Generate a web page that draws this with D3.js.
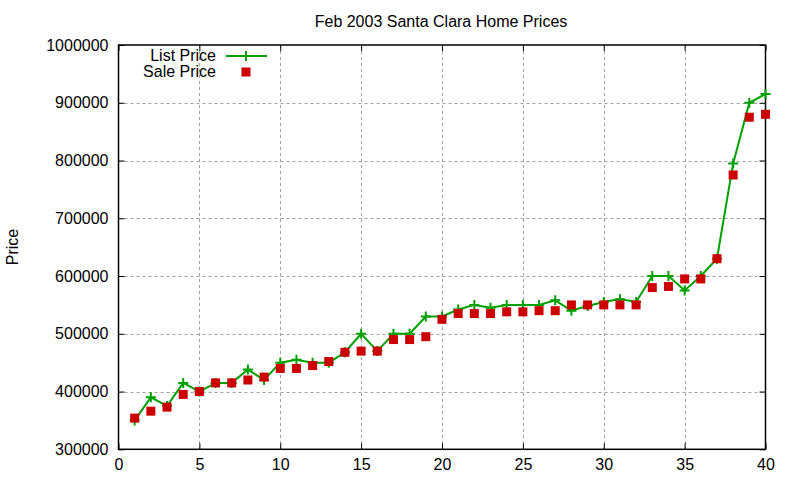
<!DOCTYPE html>
<html lang="en">
<head>
	<meta charset="UTF-8">
	<title>Feb 2003 Santa Clara Home Prices</title>
	<script src="https://cdn.jsdelivr.net/npm/d3@7"></script>
	<style>
		body { margin: 0; background: white; }
		svg text { font-family: "Liberation Sans", Arial, sans-serif; fill: #000; }
	</style>
</head>
<body>
	<div id="vis"></div>

	<script>
		// data
		var homes = d3.range(1, 41);
		var listPrice = [350000, 390000, 375000, 415000, 400000, 415000, 415000, 438000, 420000, 450000,
			455000, 450000, 450000, 468000, 500000, 470000, 500000, 500000, 530000, 530000,
			542000, 550000, 545000, 550000, 550000, 550000, 558000, 540000, 548000, 555000,
			560000, 555000, 600000, 600000, 575000, 600000, 630000, 795000, 900000, 915000];
		var salePrice = [354000, 366000, 373000, 395000, 400000, 415000, 415000, 420000, 425000, 440000,
			440000, 445000, 452000, 468000, 470000, 470000, 490000, 490000, 495000, 525000,
			535000, 535000, 535000, 538000, 538000, 540000, 540000, 550000, 550000, 550000,
			550000, 550000, 580000, 582000, 595000, 595000, 630000, 775000, 875000, 880000];
		var xTicks = [0, 5, 10, 15, 20, 25, 30, 35, 40];
		var yTicks = [300000, 400000, 500000, 600000, 700000, 800000, 900000, 1000000];

		var width = 800;
		var height = 480;
		// plot frame (note: "top" is taken by window.top, so use prefixed names)
		var pLeft = 118.5, pRight = 765.5, pTop = 45, pBottom = 449.3;

		var svg = d3.select("#vis").append("svg")
				.attr("width", width)
				.attr("height", height);

		var x = d3.scaleLinear().domain([0, 40]).range([pLeft, pRight]);
		var y = d3.scaleLinear().domain([300000, 1000000]).range([pBottom, pTop]);

		// grid
		var grid = svg.append("g")
				.attr("stroke", "#a0a0a0")
				.attr("stroke-width", 1)
				.attr("stroke-dasharray", "3,3");
		grid.selectAll(".gx").data(xTicks.slice(1, -1)).enter().append("line")
				.attr("x1", function(d) { return Math.round(x(d)) + 0.5; })
				.attr("x2", function(d) { return Math.round(x(d)) + 0.5; })
				.attr("y1", pTop).attr("y2", pBottom);
		grid.selectAll(".gy").data(yTicks.slice(1, -1)).enter().append("line")
				.attr("y1", function(d) { return Math.round(y(d)) + 0.5; })
				.attr("y2", function(d) { return Math.round(y(d)) + 0.5; })
				.attr("x1", pLeft).attr("x2", pRight);

		// axes with inward ticks, mirrored on the opposite side
		var tick = 6;
		svg.append("g")
				.attr("transform", "translate(0," + pBottom + ")")
				.call(d3.axisBottom(x).tickValues(xTicks).tickSizeInner(-tick).tickSizeOuter(0).tickPadding(9));
		svg.append("g")
				.attr("transform", "translate(0," + pTop + ")")
				.call(d3.axisTop(x).tickValues(xTicks).tickSizeInner(-tick).tickSizeOuter(0).tickFormat(""));
		svg.append("g")
				.attr("transform", "translate(" + pLeft + ",0)")
				.call(d3.axisLeft(y).tickValues(yTicks).tickSizeInner(-tick).tickSizeOuter(0).tickPadding(10).tickFormat(d3.format("d")));
		svg.append("g")
				.attr("transform", "translate(" + pRight + ",0)")
				.call(d3.axisRight(y).tickValues(yTicks).tickSizeInner(-tick).tickSizeOuter(0).tickFormat(""));

		svg.selectAll(".tick text").attr("font-size", 16).attr("font-family", "Liberation Sans, Arial, sans-serif");
		svg.selectAll(".domain").remove();
		svg.selectAll(".tick line").attr("stroke", "#000").attr("stroke-width", 1);

		// border
		svg.append("rect")
				.attr("x", pLeft).attr("y", pTop)
				.attr("width", pRight - pLeft).attr("height", pBottom - pTop)
				.attr("fill", "none").attr("stroke", "#000").attr("stroke-width", 1.5);

		// title and label
		svg.append("text")
				.attr("x", 441).attr("y", 27)
				.attr("text-anchor", "middle")
				.attr("font-size", 16)
				.text("Feb 2003 Santa Clara Home Prices");
		svg.append("text")
				.attr("transform", "translate(18,247) rotate(-90)")
				.attr("text-anchor", "middle")
				.attr("font-size", 16)
				.text("Price");

		var green = "#00a000", red = "#cc0000";

		// list price line and + points
		var line = d3.line()
				.x(function(d, i) { return x(homes[i]); })
				.y(function(d) { return y(d); });
		svg.append("path")
				.datum(listPrice)
				.attr("d", line)
				.attr("fill", "none")
				.attr("stroke", green)
				.attr("stroke-width", 2);

		function plus(g, cx, cy) {
			g.append("path")
				.attr("d", "M" + (cx - 5) + "," + cy + "h10M" + cx + "," + (cy - 5) + "v10")
				.attr("stroke", green)
				.attr("stroke-width", 2);
		}
		var pts = svg.append("g");
		listPrice.forEach(function(d, i) { plus(pts, x(homes[i]), y(d)); });

		// sale price squares
		svg.append("g").selectAll("rect").data(salePrice).enter().append("rect")
				.attr("x", function(d, i) { return x(homes[i]) - 4.5; })
				.attr("y", function(d) { return y(d) - 4.5; })
				.attr("width", 9).attr("height", 9)
				.attr("fill", red);

		// legend
		var lg = svg.append("g");
		lg.append("text").attr("x", 216).attr("y", 61).attr("text-anchor", "end").attr("font-size", 16).text("List Price");
		lg.append("line").attr("x1", 226).attr("x2", 267).attr("y1", 56).attr("y2", 56)
				.attr("stroke", green).attr("stroke-width", 2);
		plus(lg, 246, 56);
		lg.append("text").attr("x", 216).attr("y", 77).attr("text-anchor", "end").attr("font-size", 16).text("Sale Price");
		lg.append("rect").attr("x", 241.5).attr("y", 67.5).attr("width", 9).attr("height", 9).attr("fill", red);
	</script>
</body>
</html>
